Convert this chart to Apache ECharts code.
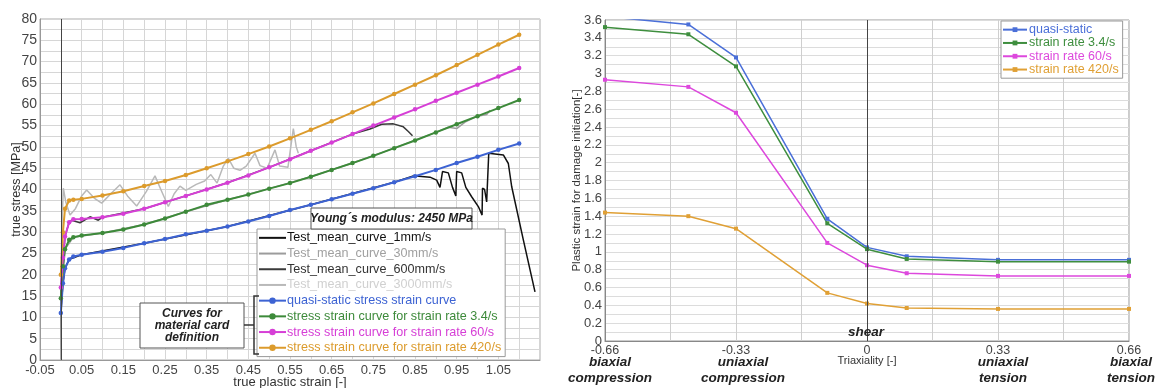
<!DOCTYPE html>
<html>
<head>
<meta charset="utf-8">
<script src="https://cdn.jsdelivr.net/npm/echarts@6/dist/echarts.min.js"></script>
<style>
  html, body { margin: 0; padding: 0; background: #fff; }
  #chart { width: 1159px; height: 388px; }
</style>
</head>
<body>
<div id="chart"></div>
<script>
// left panel: true stress vs true plastic strain
const fitStrain = [0, 0.005, 0.01, 0.02, 0.03, 0.05, 0.1, 0.15, 0.2, 0.25, 0.3, 0.35, 0.4, 0.45, 0.5,
    0.55, 0.6, 0.65, 0.7, 0.75, 0.8, 0.85, 0.9, 0.95, 1.0, 1.05, 1.1];
const quasiStatic = [11, 18, 21.5, 23.6, 24.3, 24.7, 25.4, 26.3, 27.4, 28.4, 29.5, 30.3, 31.3, 32.5, 33.8,
    35.2, 36.4, 37.7, 39.0, 40.3, 41.7, 43.1, 44.6, 46.2, 47.7, 49.3, 50.8];
const rate34 = [14.5, 22, 26, 28.2, 28.8, 29.2, 29.8, 30.6, 31.8, 33.2, 34.8, 36.4, 37.6, 38.8, 40.2,
    41.5, 43.0, 44.6, 46.2, 47.9, 49.7, 51.5, 53.4, 55.3, 57.2, 59.1, 61];
const rate60 = [17, 24, 29, 32.3, 33, 33.1, 33.5, 34.3, 35.5, 37, 38.5, 40, 41.6, 43.3, 45.2,
    47.1, 49.1, 51, 53, 55, 56.9, 58.8, 60.8, 62.7, 64.6, 66.5, 68.5];
const rate420 = [20, 30, 35.5, 37.4, 37.6, 37.8, 38.6, 39.6, 40.8, 42, 43.4, 45, 46.6, 48.3, 50.1,
    52, 54, 56, 58.1, 60.2, 62.4, 64.6, 66.8, 69.2, 71.6, 74, 76.3];

const test1mm = [[0, 0], [0, 11], [0.005, 18], [0.01, 21.5], [0.02, 23.6], [0.05, 24.7], [0.2, 27.4],
    [0.4, 31.3], [0.6, 36.4], [0.8, 41.7], [0.846, 43.2], [0.886, 42.9], [0.902, 42.2], [0.91, 40.5],
    [0.916, 44.2], [0.93, 43.9], [0.94, 40.5], [0.948, 38.5], [0.95, 44.2], [0.962, 43.9], [0.972, 40.5],
    [0.986, 38.3], [1.002, 36], [1.011, 34], [1.012, 40.3], [1.017, 40], [1.022, 37.1], [1.025, 37.1],
    [1.027, 48.5], [1.062, 48.1], [1.074, 46.1], [1.082, 40.7], [1.11, 28.2], [1.138, 16]];
const test30mm = [[0, 0], [0, 14], [0.01, 26], [0.03, 28.8], [0.1, 29.8], [0.2, 31.8], [0.3, 34.8],
    [0.4, 37.6], [0.5, 40.2], [0.6, 43], [0.7, 46.2], [0.8, 49.7], [0.9, 53.4], [0.93, 54.6],
    [0.95, 54.3], [0.97, 55.8], [1.0, 57.2], [1.022, 57.6], [1.03, 58.6]];
const test600mm = [[0, 0], [0, 17], [0.01, 29], [0.02, 32.3], [0.026, 32.8], [0.046, 32.2], [0.07, 33.6],
    [0.09, 32.8], [0.1, 33.5], [0.2, 35.5], [0.3, 38.5], [0.4, 41.6], [0.5, 45.2], [0.6, 49.1],
    [0.7, 53], [0.742, 54.2], [0.77, 55.3], [0.798, 55.4], [0.822, 54.7], [0.834, 53.6], [0.844, 52.6]];
const test3000mm = [[0, 0], [0.002, 30], [0.006, 40.3], [0.012, 37], [0.022, 34], [0.035, 35.5],
    [0.05, 38.5], [0.062, 39.9], [0.08, 38], [0.098, 36.8], [0.12, 39], [0.142, 41.1], [0.16, 38.5],
    [0.182, 36.1], [0.205, 39.5], [0.226, 43.2], [0.24, 40], [0.258, 36], [0.272, 39], [0.286, 40.8],
    [0.3, 39.8], [0.325, 41.2], [0.345, 42], [0.36, 43.5], [0.375, 41.5], [0.39, 45.5], [0.402, 47.3],
    [0.415, 45], [0.43, 44.5], [0.445, 45.5], [0.466, 48.5], [0.478, 45.6], [0.495, 45], [0.514, 49.3],
    [0.525, 45.5], [0.545, 45.2], [0.558, 54.3], [0.565, 50], [0.57, 48.5]];

// right panel: plastic strain for damage initiation vs triaxiality
const triaxiality = [-0.66, -0.45, -0.33, -0.1, 0, 0.1, 0.33, 0.66];
const dmgQuasi = [3.64, 3.55, 3.18, 1.37, 1.05, 0.95, 0.91, 0.91];
const dmg34 = [3.52, 3.44, 3.08, 1.32, 1.03, 0.92, 0.89, 0.89];
const dmg60 = [2.93, 2.85, 2.56, 1.10, 0.85, 0.76, 0.73, 0.73];
const dmg420 = [1.44, 1.40, 1.26, 0.54, 0.42, 0.37, 0.36, 0.36];

const FONT = 'Liberation Sans, Arial, sans-serif';
const BLUE = '#3d63d3';
const GREEN = '#3d8a3a';
const MAGENTA = '#d63fd6';
const ORANGE = '#dc9b2c';

const pair = (xs, ys) => xs.map((x, i) => [x, ys[i]]);

const zeroLine = {
    silent: true,
    symbol: ['none', 'none'],
    label: { show: false },
    lineStyle: { color: '#444', width: 1, type: 'solid' },
    data: [{ xAxis: 0 }],
};

const testSeries = [
    { name: 'Test_mean_curve_1mm/s', data: test1mm, color: '#111' },
    { name: 'Test_mean_curve_30mm/s', data: test30mm, color: '#9c9c9c' },
    { name: 'Test_mean_curve_600mm/s', data: test600mm, color: '#3a3a3a' },
    { name: 'Test_mean_curve_3000mm/s', data: test3000mm, color: '#b9b9b9' },
].map((s, i) => ({
    name: s.name,
    type: 'line',
    xAxisIndex: 0,
    yAxisIndex: 0,
    data: s.data,
    symbol: 'none',
    color: s.color,
    lineStyle: { width: 1.5, color: s.color },
    z: 2,
    markLine: i === 0 ? zeroLine : undefined,
}));

const fitSeries = [
    { name: 'quasi-static stress strain curve', data: quasiStatic, color: BLUE },
    { name: 'stress strain curve for strain rate 3.4/s', data: rate34, color: GREEN },
    { name: 'stress strain curve for strain rate 60/s', data: rate60, color: MAGENTA },
    { name: 'stress strain curve for strain rate 420/s', data: rate420, color: ORANGE },
].map((s) => ({
    name: s.name,
    type: 'line',
    xAxisIndex: 0,
    yAxisIndex: 0,
    data: pair(fitStrain, s.data),
    symbol: 'circle',
    symbolSize: 4.5,
    color: s.color,
    lineStyle: { width: 2, color: s.color },
    z: 3,
}));

const dmgSeries = [
    { name: 'quasi-static', data: dmgQuasi, color: '#4a6fd8' },
    { name: 'strain rate 3.4/s', data: dmg34, color: '#3e8e3e' },
    { name: 'strain rate 60/s', data: dmg60, color: '#dd48dd' },
    { name: 'strain rate 420/s', data: dmg420, color: '#e0a035' },
].map((s, i) => ({
    name: s.name,
    type: 'line',
    xAxisIndex: 1,
    yAxisIndex: 1,
    data: pair(triaxiality, s.data),
    symbol: 'rect',
    symbolSize: 4,
    color: s.color,
    lineStyle: { width: 1.5, color: s.color },
    z: 3,
    markLine: i === 0 ? zeroLine : undefined,
}));

const legendItem = (name, color) => ({ name, textStyle: { color } });
// test curves have no markers, so hide the legend dot
const legendLine = (name, color) => ({ name, textStyle: { color }, itemStyle: { opacity: 0 } });

const boldItalic = (size) => `italic bold ${size}px ${FONT}`;
const label = (text, x, y, size) => ({
    type: 'text',
    z: 100,
    style: { text, x, y, font: boldItalic(size), fill: '#222', align: 'center', verticalAlign: 'middle' },
});

const option = {
    animation: false,
    backgroundColor: '#fff',
    grid: [
        { left: 40, top: 19, width: 500, height: 341, show: true, borderColor: '#aaa', borderWidth: 1,
            outerBoundsMode: 'none' },
        { left: 605, top: 20, width: 524, height: 321, show: true, borderColor: '#999', borderWidth: 1,
            outerBoundsMode: 'none' },
    ],
    xAxis: [
        {
            gridIndex: 0,
            type: 'value',
            min: -0.05,
            max: 1.15,
            interval: 0.05,
            name: 'true plastic strain [-]',
            nameLocation: 'middle',
            nameGap: 16,
            nameMoveOverlap: false,
            nameTextStyle: { fontFamily: FONT, fontSize: 13, color: '#333' },
            axisLine: { onZero: false, lineStyle: { color: '#999' } },
            axisTick: { show: false },
            axisLabel: {
                margin: 4,
                fontFamily: FONT,
                fontSize: 13,
                color: '#444',
                showMaxLabel: false,
                formatter: (v) => (Math.round((v + 0.05) / 0.05) % 2 === 0 ? v.toFixed(2) : ''),
            },
            splitLine: { lineStyle: { color: '#d6d6d6' } },
        },
        {
            gridIndex: 1,
            type: 'value',
            min: -0.66,
            max: 0.66,
            interval: 0.165,
            name: 'Triaxiality [-]',
            nameLocation: 'middle',
            nameGap: 14,
            nameMoveOverlap: false,
            nameTextStyle: { fontFamily: FONT, fontSize: 11, color: '#333' },
            axisLine: { onZero: false, lineStyle: { color: '#888' } },
            axisTick: { show: false },
            axisLabel: {
                margin: 3,
                fontFamily: FONT,
                fontSize: 12.5,
                color: '#444',
                formatter: (v) => (Math.abs(Math.round(v / 0.165)) % 2 === 0 ? String(Number(v.toFixed(2))) : ''),
            },
            splitLine: { lineStyle: { color: '#cfcfcf' } },
        },
    ],
    yAxis: [
        {
            gridIndex: 0,
            type: 'value',
            min: 0,
            max: 80,
            interval: 2.5,
            name: 'true stress [MPa]',
            nameLocation: 'middle',
            nameGap: 17,
            nameMoveOverlap: false,
            nameTextStyle: { fontFamily: FONT, fontSize: 12.5, color: '#333' },
            axisLine: { show: true, onZero: false, lineStyle: { color: '#999' } },
            axisTick: { show: false },
            axisLabel: {
                margin: 3,
                fontFamily: FONT,
                fontSize: 14,
                color: '#444',
                formatter: (v) => (v % 5 === 0 ? String(v) : ''),
            },
            splitLine: { lineStyle: { color: '#d6d6d6' } },
        },
        {
            gridIndex: 1,
            type: 'value',
            min: 0,
            max: 3.6,
            interval: 0.1,
            name: 'Plastic strain for damage initiation[-]',
            nameLocation: 'middle',
            nameGap: 22,
            nameMoveOverlap: false,
            nameTextStyle: { fontFamily: FONT, fontSize: 11.5, color: '#333' },
            axisLine: { show: true, onZero: false, lineStyle: { color: '#888' } },
            axisTick: { show: false },
            axisLabel: {
                margin: 3,
                fontFamily: FONT,
                fontSize: 13,
                color: '#444',
                formatter: (v) => (Math.round(v * 10) % 2 === 0 ? String(Number(v.toFixed(1))) : ''),
            },
            splitLine: { lineStyle: { color: '#dcdcdc' } },
        },
    ],
    legend: [
        {
            orient: 'vertical',
            left: 257,
            top: 229,
            padding: [1, 4, 1, 1],
            itemGap: 0,
            itemWidth: 27,
            itemHeight: 8,
            backgroundColor: '#fff',
            borderColor: '#999',
            borderWidth: 1,
            textStyle: { fontFamily: FONT, fontSize: 12.6, lineHeight: 15.7, padding: [0, 0, 0, -4] },
            data: [
                legendLine('Test_mean_curve_1mm/s', '#111'),
                legendLine('Test_mean_curve_30mm/s', '#a0a0a0'),
                legendLine('Test_mean_curve_600mm/s', '#333'),
                legendLine('Test_mean_curve_3000mm/s', '#d0d0d0'),
                legendItem('quasi-static stress strain curve', BLUE),
                legendItem('stress strain curve for strain rate 3.4/s', GREEN),
                legendItem('stress strain curve for strain rate 60/s', MAGENTA),
                legendItem('stress strain curve for strain rate 420/s', ORANGE),
            ],
        },
        {
            orient: 'vertical',
            left: 1001,
            top: 21,
            padding: [2, 4, 2, 1],
            itemGap: 0,
            itemWidth: 24,
            itemHeight: 6,
            backgroundColor: '#fff',
            borderColor: '#999',
            borderWidth: 1,
            textStyle: { fontFamily: FONT, fontSize: 12.5, lineHeight: 13.3, padding: [0, 0, 0, -3] },
            data: [
                legendItem('quasi-static', '#4a6fd8'),
                legendItem('strain rate 3.4/s', '#3e8e3e'),
                legendItem('strain rate 60/s', '#dd48dd'),
                legendItem('strain rate 420/s', '#e0a035'),
            ],
        },
    ],
    graphic: [
        // Young's modulus note
        { type: 'rect', z: 100, shape: { x: 311, y: 208, width: 161, height: 21 },
            style: { fill: '#fff', stroke: '#555', lineWidth: 1 } },
        label('Young´s modulus: 2450 MPa', 391.5, 218.5, 12),
        // curves for material card definition
        { type: 'rect', z: 100, shape: { x: 140, y: 303, width: 104, height: 45 },
            style: { fill: '#fff', stroke: '#555', lineWidth: 1 } },
        label('Curves for', 192, 314, 12),
        label('material card', 192, 326, 12),
        label('definition', 192, 338, 12),
        { type: 'polyline', z: 100, shape: { points: [[259, 296], [254, 296], [254, 354], [259, 354]] },
            style: { stroke: '#333', lineWidth: 1.5, fill: null } },
        { type: 'line', z: 100, shape: { x1: 244, y1: 325, x2: 254, y2: 325 },
            style: { stroke: '#333', lineWidth: 1.5 } },
        // loading state labels
        label('biaxial', 610, 362, 13.5),
        label('compression', 610, 378, 13.5),
        label('uniaxial', 743, 362, 13.5),
        label('compression', 743, 378, 13.5),
        label('shear', 866, 332, 13.5),
        label('uniaxial', 1003, 362, 13.5),
        label('tension', 1003, 378, 13.5),
        label('biaxial', 1131, 362, 13.5),
        label('tension', 1131, 378, 13.5),
    ],
    series: [...testSeries, ...fitSeries, ...dmgSeries],
};

const chart = echarts.init(document.getElementById('chart'));
chart.setOption(option);
</script>
</body>
</html>
